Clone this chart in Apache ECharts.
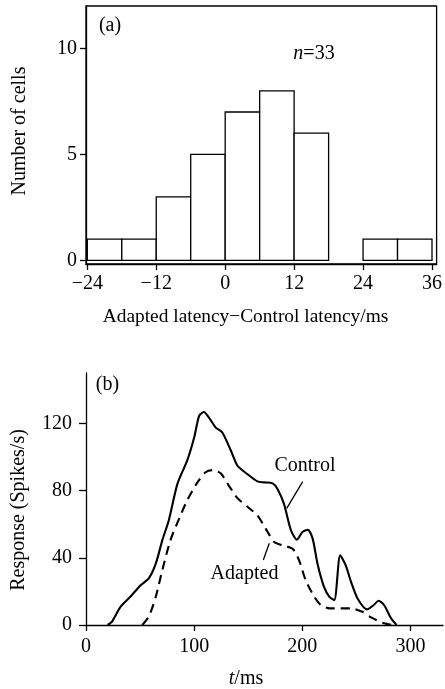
<!DOCTYPE html>
<html>
<head>
<meta charset="utf-8">
<script src="https://cdn.jsdelivr.net/npm/echarts@6/dist/echarts.min.js"></script>
<style>
html,body{margin:0;padding:0;background:#fff;}
#chart{width:445px;height:689px;}
</style>
</head>
<body>
<div id="chart"></div>
<script>
// ---- Panel (a): histogram ----
const histBinStart = [-24, -18, -12, -6, 0, 6, 12, 24, 30];
const histBinEnd   = [-18, -12, -6, 0, 6, 12, 18, 30, 36];
const histCounts   = [1, 1, 3, 5, 7, 8, 6, 1, 1];
const histXTicks = [-24, -12, 0, 12, 24, 36];
const histYTicks = [0, 5, 10];

// ---- Panel (b): response curves ----
const controlT = [20, 24, 32, 41, 50.5, 58, 64.5, 70.5, 76.5, 84.5, 93.5, 100, 104.5, 109, 114, 120, 126, 134, 140, 149, 158.5, 164.5, 172.5, 177, 183, 189.5, 195, 200, 205, 209.5, 214, 220, 225, 229.5, 235, 240, 245, 251, 260, 266, 270.5, 275.5, 282, 287];
const controlV = [0, 2, 10.9, 16.8, 23.7, 27.7, 36.5, 50.4, 62.2, 84, 97.8, 111.6, 124.4, 126.8, 123.1, 117.5, 114.6, 103.7, 94.8, 89.9, 85.5, 84.9, 84.3, 81, 72.1, 56.3, 50.8, 55.3, 56.7, 51.4, 36.5, 22.7, 16.8, 14.8, 41.5, 35.6, 25.7, 15.8, 9.3, 11.9, 14.4, 11.9, 4, 0];
const adaptedT = [52, 58, 64.5, 70.5, 78, 86, 93.5, 103, 110.5, 117, 124.5, 132, 140, 149, 158.5, 168, 174, 181.5, 191, 197, 203, 211, 217, 225, 245, 255.5, 263.5, 275.5, 283.5];
const adaptedV = [0, 4.9, 16.8, 32.6, 50.4, 63.2, 74.1, 84.9, 90.9, 92.2, 90.3, 83, 75.5, 70.5, 65.2, 55.3, 49.4, 47.4, 45.4, 38.5, 26.7, 16.8, 11.9, 9.9, 9.9, 7.9, 4.5, 1, 0];
const respXTicks = [0, 100, 200, 300];
const respYTicks = [0, 40, 80, 120];

const FONT = 'Liberation Serif, Times New Roman, serif';
const histData = histBinStart.map((s, i) => [s, histBinEnd[i], histCounts[i]]);
const controlData = controlT.map((t, i) => [t, controlV[i]]);
const adaptedData = adaptedT.map((t, i) => [t, adaptedV[i]]);
const minusFmt = v => String(v).replace('-', '\u2212');

const axisCommon = {
  axisLine: { show: true, onZero: false, lineStyle: { color: '#000', width: 1.3 } },
  axisTick: { show: true, inside: false, length: 6, lineStyle: { color: '#000', width: 1.3 } },
  splitLine: { show: false },
  axisLabel: { color: '#000', fontFamily: FONT, fontSize: 20 }
};

const chart = echarts.init(document.getElementById('chart'), null, { renderer: 'canvas' });
chart.setOption({
  animation: false,
  backgroundColor: '#fff',
  grid: [
    { left: 86, top: 6, width: 352, height: 258, show: true, borderColor: '#000', borderWidth: 1.3, backgroundColor: 'transparent' },
    { left: 86, top: 373, width: 357, height: 252 }
  ],
  xAxis: [
    Object.assign({}, axisCommon, {
      type: 'value', gridIndex: 0, min: -24.23, max: 36.8,
      axisTick: Object.assign({}, axisCommon.axisTick, { customValues: histXTicks }),
      axisLabel: Object.assign({}, axisCommon.axisLabel, { customValues: histXTicks, margin: 10, formatter: minusFmt })
    }),
    Object.assign({}, axisCommon, {
      type: 'value', gridIndex: 1, min: 0, max: 330,
      axisTick: Object.assign({}, axisCommon.axisTick, { customValues: respXTicks }),
      axisLabel: Object.assign({}, axisCommon.axisLabel, { customValues: respXTicks, margin: 12 })
    })
  ],
  yAxis: [
    Object.assign({}, axisCommon, {
      type: 'value', gridIndex: 0, min: -0.17, max: 12,
      axisTick: Object.assign({}, axisCommon.axisTick, { customValues: histYTicks }),
      axisLabel: Object.assign({}, axisCommon.axisLabel, { customValues: histYTicks, margin: 9 })
    }),
    Object.assign({}, axisCommon, {
      type: 'value', gridIndex: 1, min: 0, max: 150,
      axisTick: Object.assign({}, axisCommon.axisTick, { customValues: respYTicks, length: 7 }),
      axisLabel: Object.assign({}, axisCommon.axisLabel, { customValues: respYTicks, margin: 14 })
    })
  ],
  series: [
    {
      type: 'custom', xAxisIndex: 0, yAxisIndex: 0, data: histData,
      encode: { x: [0, 1], y: 2 },
      renderItem: function (params, api) {
        const p0 = api.coord([api.value(0), api.value(2)]);
        const p1 = api.coord([api.value(1), 0]);
        return {
          type: 'rect',
          shape: { x: p0[0], y: p0[1], width: p1[0] - p0[0], height: p1[1] - p0[1] },
          style: { fill: '#fff', stroke: '#000', lineWidth: 1.3 }
        };
      }
    },
    {
      type: 'line', name: 'Control', xAxisIndex: 1, yAxisIndex: 1, data: controlData,
      showSymbol: false, smooth: 0.25,
      lineStyle: { color: '#000', width: 2.1 }
    },
    {
      type: 'line', name: 'Adapted', xAxisIndex: 1, yAxisIndex: 1, data: adaptedData,
      showSymbol: false, smooth: 0.25,
      lineStyle: { color: '#000', width: 2.1, type: [9, 6] }
    }
  ],
  graphic: [
    { type: 'text', x: 110, y: 26, style: { text: '(a)', font: '20px ' + FONT, fill: '#000', align: 'center', verticalAlign: 'middle' } },
    { type: 'text', x: 314, y: 54, style: {
        text: '{i|n}=33', align: 'center', verticalAlign: 'middle', fill: '#000', font: '20px ' + FONT,
        rich: { i: { fontStyle: 'italic', fontFamily: FONT, fontSize: 20, fill: '#000' } } } },
    { type: 'text', x: 20, y: 131, rotation: Math.PI / 2, style: { text: 'Number of cells', font: '20px ' + FONT, fill: '#000', align: 'center', verticalAlign: 'middle' } },
    { type: 'text', x: 245.5, y: 317, style: { text: 'Adapted latency\u2212Control latency/ms', font: '19.4px ' + FONT, fill: '#000', align: 'center', verticalAlign: 'middle' } },
    { type: 'text', x: 107.5, y: 385, style: { text: '(b)', font: '20px ' + FONT, fill: '#000', align: 'center', verticalAlign: 'middle' } },
    { type: 'text', x: 18.5, y: 510, rotation: Math.PI / 2, style: { text: 'Response (Spikes/s)', font: '20px ' + FONT, fill: '#000', align: 'center', verticalAlign: 'middle' } },
    { type: 'text', x: 246, y: 679, style: {
        text: '{i|t}/ms', align: 'center', verticalAlign: 'middle', fill: '#000', font: '20px ' + FONT,
        rich: { i: { fontStyle: 'italic', fontFamily: FONT, fontSize: 20, fill: '#000' } } } },
    { type: 'text', x: 305, y: 466, style: { text: 'Control', font: '20px ' + FONT, fill: '#000', align: 'center', verticalAlign: 'middle' } },
    { type: 'line', shape: { x1: 302.7, y1: 481.7, x2: 286.7, y2: 508.3 }, style: { stroke: '#000', lineWidth: 1.3 } },
    { type: 'text', x: 244.5, y: 574, style: { text: 'Adapted', font: '20px ' + FONT, fill: '#000', align: 'center', verticalAlign: 'middle' } },
    { type: 'line', shape: { x1: 269.3, y1: 543.3, x2: 263.3, y2: 560 }, style: { stroke: '#000', lineWidth: 1.3 } }
  ]
});
</script>
</body>
</html>
